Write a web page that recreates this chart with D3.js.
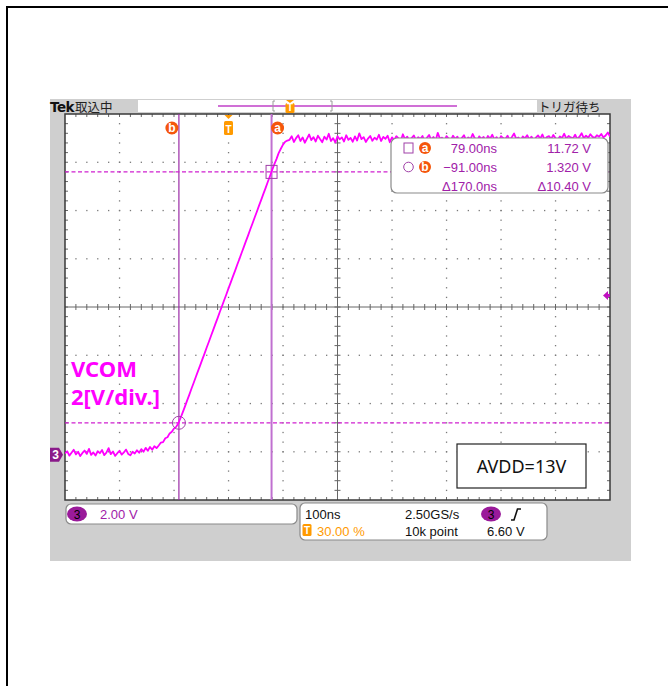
<!DOCTYPE html>
<html><head><meta charset="utf-8">
<script src="https://cdn.jsdelivr.net/npm/d3@7"></script>
<style>body{margin:0;background:#fff}svg{display:block}</style>
</head><body><svg id="c" width="668" height="686"></svg>
<script>
// ---- data ----
const timeRangeNs = [-300, 700];      // 100 ns/div, trigger at 30 %
const voltRange = [-1.88, 14.12];     // 2 V/div, CH3 ground near bottom
const traceStartNs = -300;
const traceStepNs = 4;
const traceVolts = [
  0.05,0.14,-0.04,0.08,0.20,0.01,0.12,-0.06,0.07,0.17,
  0.03,0.24,-0.01,0.09,-0.04,0.14,0.06,0.19,-0.02,0.08,
  0.27,0.02,0.13,-0.05,0.06,0.16,0.00,0.09,0.21,0.03,
  -0.03,0.12,0.05,0.18,0.08,0.23,0.12,0.28,0.16,0.32,
  0.20,0.35,0.27,
  0.38,0.50,0.52,0.68,0.72,0.88,0.95,1.08,1.15,1.30,
  1.52,1.75,1.99,2.24,2.48,2.73,2.97,3.22,3.46,3.70,
  3.95,4.19,4.44,4.68,4.93,5.17,5.42,5.66,5.91,6.15,
  6.40,6.64,6.89,7.13,7.38,7.62,7.87,8.11,8.36,8.60,
  8.85,9.09,9.34,9.58,9.83,10.07,10.32,10.56,10.81,11.05,
  11.30,11.54,11.79,12.03,12.25,12.50,12.68,12.85,12.97,13.02,
  13.05,13.20,12.96,13.12,13.24,13.00,13.15,12.93,13.10,13.27,
  13.04,13.16,12.98,13.22,13.08,12.95,13.18,13.06,13.30,13.00,
  13.12,12.94,13.20,13.07,13.15,12.98,13.24,13.05,13.13,12.97,
  13.19,13.02,13.32,13.08,13.16,12.96,13.10,13.21,13.01,13.14,
  13.06,13.26,13.00,13.17,13.09,13.22,12.95,13.15,13.04,13.20,
  13.11,13.01,13.28,13.07,13.18,12.99,13.12,13.23,13.03,13.16,
  13.08,13.21,12.97,13.13,13.25,13.05,13.17,13.01,13.34,13.09,
  13.14,13.00,13.20,13.10,13.04,13.22,13.08,13.18,12.96,13.12,
  13.24,13.03,13.15,13.07,13.29,13.11,12.99,13.19,13.09,13.17,
  13.02,13.21,13.10,13.26,13.06,13.16,13.00,13.20,13.12,13.08,
  13.22,13.04,13.17,13.31,13.09,13.15,13.01,13.19,13.11,13.24,
  13.07,13.18,13.03,13.14,13.23,13.10,13.27,13.06,13.16,13.20,
  13.09,13.25,13.12,13.04,13.19,13.13,13.30,13.10,13.21,13.15,
  13.11,13.26,13.08,13.18,13.32,13.12,13.22,13.14,13.28,13.17,
  13.13,13.24,13.18,13.29,13.15,13.23,13.35,13.19
];
const cursorNames = ["a", "b"];
const cursorTimesNs = [79, -91];
const cursorVolts = [11.72, 1.32];
const triggerTimeNs = 0;
const triggerLevelV = 6.60;
const readoutTimes = ["79.00ns", "\u221291.00ns", "\u0394170.0ns"];
const readoutVolts = ["11.72 V", "1.320 V", "\u039410.40 V"];
const channelLabel = "3";
const chScaleText = "2.00 V";
const horizText = ["100ns", "2.50GS/s"];
const horizText2 = ["30.00 %", "10k point", "6.60 V"];
const annotLines = ["VCOM", "2[V/div.]"];
const supplyText = "AVDD=13V";

// ---- layout ----
const L = 65, R = 610, T = 114, B = 500;
const x = d3.scaleLinear().domain(timeRangeNs).range([L, R]);
const y = d3.scaleLinear().domain(voltRange).range([B, T]);
const svg = d3.select("#c");
const UI = "'Liberation Sans', Arial, sans-serif";
const PURPLE = "#a020a8", MAG = "#ff00ff", ORANGE = "#f5560c", TORANGE = "#ff9a00";

svg.append("rect").attr("x",7).attr("y",7).attr("width",720).attr("height",720)
  .attr("fill","none").attr("stroke","#000").attr("stroke-width",2);
svg.append("rect").attr("x",50).attr("y",99).attr("width",581).attr("height",462).attr("fill","#cfcfcf");
svg.append("rect").attr("x",L).attr("y",T).attr("width",R-L).attr("height",B-T).attr("fill","#fff");

// ---- grid ----
const xDivs = d3.range(timeRangeNs[0], timeRangeNs[1] + 1, 100);
const yDivs = d3.range(0, 9).map(k => voltRange[0] + 2 * k);
const xMinor = d3.range(1, 50).map(j => timeRangeNs[0] + 20 * j);
const yMinor = d3.range(1, 40).map(j => voltRange[0] + 0.4 * j);
const xc = xDivs[5], yc = yDivs[4];
const grid = svg.append("g").attr("fill", "#7a7a7a");
xDivs.slice(1, -1).filter(v => v !== xc).forEach(xv => {
  yMinor.forEach(v => grid.append("rect").attr("x", x(xv) - 0.6).attr("y", y(v) - 0.6).attr("width", 1.3).attr("height", 1.3));
});
yDivs.slice(1, -1).filter(v => v !== yc).forEach(yv => {
  xMinor.forEach(t => grid.append("rect").attr("x", x(t) - 0.6).attr("y", y(yv) - 0.6).attr("width", 1.3).attr("height", 1.3));
});
const gl = svg.append("g").attr("stroke", "#666").attr("stroke-width", 1);
gl.append("line").attr("x1", x(xc)).attr("x2", x(xc)).attr("y1", T).attr("y2", B);
gl.append("line").attr("x1", L).attr("x2", R).attr("y1", y(yc)).attr("y2", y(yc));
xMinor.forEach(t => {
  gl.append("line").attr("x1", x(t)).attr("x2", x(t)).attr("y1", y(yc) - 3).attr("y2", y(yc) + 3);
  gl.append("line").attr("x1", x(t)).attr("x2", x(t)).attr("y1", T).attr("y2", T + 3);
  gl.append("line").attr("x1", x(t)).attr("x2", x(t)).attr("y1", B - 3).attr("y2", B);
});
yMinor.forEach(v => {
  gl.append("line").attr("y1", y(v)).attr("y2", y(v)).attr("x1", x(xc) - 3).attr("x2", x(xc) + 3);
  gl.append("line").attr("y1", y(v)).attr("y2", y(v)).attr("x1", L).attr("x2", L + 3);
  gl.append("line").attr("y1", y(v)).attr("y2", y(v)).attr("x1", R - 3).attr("x2", R);
});
svg.append("rect").attr("x",L).attr("y",T).attr("width",R-L).attr("height",B-T)
  .attr("fill","none").attr("stroke","#3a3a3a").attr("stroke-width",1.5);

// ---- cursors ----
const [ta, tb] = cursorTimesNs, [va, vb] = cursorVolts;
svg.append("line").attr("x1", x(tb)).attr("x2", x(tb)).attr("y1", T).attr("y2", B)
  .attr("stroke", "#9a2aa6").attr("stroke-width", 1.2);
svg.append("line").attr("x1", x(ta)).attr("x2", x(ta)).attr("y1", T).attr("y2", B)
  .attr("stroke", "#c070d0").attr("stroke-width", 2);
cursorVolts.forEach(v => svg.append("line").attr("x1", L).attr("x2", R).attr("y1", y(v)).attr("y2", y(v))
  .attr("stroke", "#d020d0").attr("stroke-width", 1.2).attr("stroke-dasharray", "4,2.5"));

// ---- trace ----
const pts = traceVolts.map((v, i) => [traceStartNs + i * traceStepNs, v]);
svg.append("defs").append("clipPath").attr("id", "clp").append("rect")
  .attr("x", L).attr("y", T).attr("width", R - L).attr("height", B - T);
svg.append("path").attr("clip-path", "url(#clp)")
  .attr("d", d3.line().x(d => x(d[0])).y(d => y(d[1]))(pts))
  .attr("fill", "none").attr("stroke", MAG).attr("stroke-width", 1.8).attr("stroke-linejoin", "round");

// cursor markers on the trace
svg.append("rect").attr("x", x(ta) - 5.5).attr("y", y(va) - 6.5).attr("width", 11).attr("height", 13)
  .attr("fill", "none").attr("stroke", "#a040a8").attr("stroke-width", 1);
svg.append("circle").attr("cx", x(tb)).attr("cy", y(vb)).attr("r", 6.5)
  .attr("fill", "none").attr("stroke", "#a040a8").attr("stroke-width", 1);

// top-of-plot markers
function letterBadge(cx, cy, ch, r) {
  svg.append("circle").attr("cx", cx).attr("cy", cy).attr("r", r).attr("fill", ORANGE);
  svg.append("text").attr("x", cx).attr("y", cy + 4).attr("text-anchor", "middle")
    .attr("font-family", UI).attr("font-weight", "bold").attr("font-size", 12).attr("fill", "#fff").text(ch);
}
letterBadge(x(tb) - 7, 128, cursorNames[1], 6.5);
letterBadge(x(ta) + 6, 128, cursorNames[0], 6.5);
function tBadge(cx, top, h) {
  svg.append("rect").attr("x", cx - 4.5).attr("y", top).attr("width", 9).attr("height", h).attr("rx", 1.5).attr("fill", TORANGE);
  svg.append("text").attr("x", cx).attr("y", top + h - 2.5).attr("text-anchor", "middle")
    .attr("font-family", UI).attr("font-weight", "bold").attr("font-size", 10).attr("fill", "#fff").text("T");
}
svg.append("path").attr("d", `M${x(triggerTimeNs)-4},115 L${x(triggerTimeNs)+4},115 L${x(triggerTimeNs)},119 Z`).attr("fill", TORANGE);
tBadge(x(triggerTimeNs), 121, 14);

// trigger level arrow (right edge)
const yt = y(triggerLevelV);
svg.append("path").attr("d", `M${R-7},${yt} L${R-2},${yt-4.5} L${R-2},${yt+4.5} Z`).attr("fill", "#c010c0");
svg.append("rect").attr("x", R - 3).attr("y", yt - 1.5).attr("width", 3).attr("height", 3).attr("fill", "#c010c0");

// ground marker
const y0 = y(0);
svg.append("path").attr("d", `M50,${y0-7} L59,${y0-7} L63,${y0} L59,${y0+7} L50,${y0+7} Z`).attr("fill", "#8a1a8a");
svg.append("text").attr("x", 55.5).attr("y", y0 + 4.5).attr("text-anchor", "middle")
  .attr("font-family", UI).attr("font-weight", "bold").attr("font-size", 12).attr("fill", "#fff").text(channelLabel);

// ---- measurement readout box ----
svg.append("rect").attr("x", 391).attr("y", 138).attr("width", 217).attr("height", 55).attr("rx", 6)
  .attr("fill", "#fff").attr("stroke", "#8a8a8a").attr("stroke-width", 1.2);
svg.append("rect").attr("x", 404).attr("y", 143).attr("width", 9).attr("height", 10)
  .attr("fill", "none").attr("stroke", "#a040a8").attr("stroke-width", 1);
svg.append("circle").attr("cx", 408.5).attr("cy", 167).attr("r", 4.8)
  .attr("fill", "none").attr("stroke", "#a040a8").attr("stroke-width", 1);
letterBadge(425, 148, "a", 6);
letterBadge(425, 167, "b", 6);
readoutTimes.forEach((s, i) => svg.append("text").attr("x", 497).attr("y", 153 + i * 19)
  .attr("text-anchor", "end").attr("font-family", UI).attr("font-size", 13).attr("fill", PURPLE).text(s));
readoutVolts.forEach((s, i) => svg.append("text").attr("x", 591).attr("y", 153 + i * 19)
  .attr("text-anchor", "end").attr("font-family", UI).attr("font-size", 13).attr("fill", PURPLE).text(s));

// ---- top status bar ----
svg.append("text").attr("x", 50).attr("y", 112).attr("font-family", "'DejaVu Sans', sans-serif")
  .attr("font-weight", "bold").attr("font-size", 13.5).attr("letter-spacing", -0.5).attr("fill", "#111").text("Tek");
svg.append("text").attr("x", 75).attr("y", 112).attr("font-family", "'Noto Sans CJK JP', sans-serif")
  .attr("font-size", 12.5).attr("fill", "#222").text("取込中");
svg.append("rect").attr("x", 138).attr("y", 100).attr("width", 399).attr("height", 12).attr("fill", "#fff");
svg.append("line").attr("x1", 218).attr("x2", 457).attr("y1", 106).attr("y2", 106).attr("stroke", "#c040c8").attr("stroke-width", 1.5);
[273, 332].forEach((bx, i) => {
  const d = i === 0 ? 2 : -2;
  svg.append("path").attr("d", `M${bx+d},101 L${bx},101 L${bx},111 L${bx+d},111`)
    .attr("fill", "none").attr("stroke", "#9a9a9a").attr("stroke-width", 1);
});
svg.append("path").attr("d", "M286,100 L294,100 L290,103 Z").attr("fill", TORANGE);
tBadge(290, 103, 10);
svg.append("text").attr("x", 538).attr("y", 112).attr("font-family", "'Noto Sans CJK JP', sans-serif")
  .attr("font-size", 12.5).attr("fill", "#222").text("トリガ待ち");

// ---- annotations ----
annotLines.forEach((s, i) => svg.append("text").attr("x", 71).attr("y", 377 + i * 28)
  .attr("font-family", "'Noto Sans', sans-serif").attr("font-weight", "bold").attr("font-size", 22)
  .attr("fill", MAG).text(s));
svg.append("rect").attr("x", 457).attr("y", 444).attr("width", 129).attr("height", 44)
  .attr("fill", "#fff").attr("stroke", "#222").attr("stroke-width", 1.2);
svg.append("text").attr("x", 521.5).attr("y", 473).attr("text-anchor", "middle")
  .attr("font-family", "'Noto Sans', sans-serif").attr("font-size", 18).attr("fill", "#111").text(supplyText);

// ---- bottom readouts ----
svg.append("rect").attr("x", 66).attr("y", 504).attr("width", 231).attr("height", 20).attr("rx", 5)
  .attr("fill", "#fff").attr("stroke", "#8a8a8a").attr("stroke-width", 1.2);
function chPill(cx, cy) {
  svg.append("ellipse").attr("cx", cx).attr("cy", cy).attr("rx", 10).attr("ry", 7.5).attr("fill", "#9a1a9a");
  svg.append("text").attr("x", cx).attr("y", cy + 4.5).attr("text-anchor", "middle")
    .attr("font-family", UI).attr("font-size", 12).attr("fill", "#000").text(channelLabel);
}
chPill(77, 514);
svg.append("text").attr("x", 100).attr("y", 519).attr("font-family", UI).attr("font-size", 13).attr("fill", PURPLE).text(chScaleText);

svg.append("rect").attr("x", 300).attr("y", 503).attr("width", 247).attr("height", 37).attr("rx", 5)
  .attr("fill", "#fff").attr("stroke", "#8a8a8a").attr("stroke-width", 1.2);
svg.append("text").attr("x", 305).attr("y", 519).attr("font-family", UI).attr("font-size", 13).attr("fill", "#111").text(horizText[0]);
svg.append("text").attr("x", 405).attr("y", 519).attr("font-family", UI).attr("font-size", 13).attr("fill", "#111").text(horizText[1]);
chPill(491, 514);
svg.append("path").attr("d", "M511,520 L514,520 L517.5,509 L521,509").attr("fill", "none").attr("stroke", "#111").attr("stroke-width", 1.6);
tBadge(307, 524, 12);
svg.append("text").attr("x", 317).attr("y", 536).attr("font-family", UI).attr("font-size", 13).attr("fill", TORANGE).text(horizText2[0]);
svg.append("text").attr("x", 405).attr("y", 536).attr("font-family", UI).attr("font-size", 13).attr("fill", "#111").text(horizText2[1]);
svg.append("text").attr("x", 487).attr("y", 536).attr("font-family", UI).attr("font-size", 13).attr("fill", "#111").text(horizText2[2]);
</script></body></html>
